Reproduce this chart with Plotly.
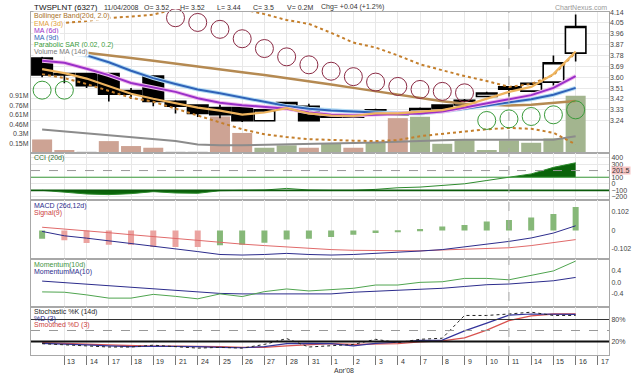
import plotly.graph_objects as go

# ---------------- data ----------------
dates = ["12", "13", "14", "17", "18", "19", "21", "24", "25", "26", "27", "28", "31",
         "1", "2", "3", "4", "7", "8", "9", "10", "11", "14", "15", "16"]
tick_labels = ["13", "14", "17", "18", "19", "21", "24", "25", "26", "27", "28", "31",
               "1<br>Apr'08", "2", "3", "4", "7", "8", "9", "10", "11", "14", "15", "16", "17"]

open_ = [3.76, 3.63, 3.63, 3.63, 3.49, 3.61, 3.40, 3.37, 3.35, 3.35, 3.24, 3.36, 3.36,
         3.28, 3.28, 3.29, 3.31, 3.31, 3.37, 3.37, 3.44, 3.52, 3.485, 3.56, 3.80]
high = [3.77, 3.64, 3.63, 3.63, 3.51, 3.61, 3.41, 3.37, 3.40, 3.35, 3.34, 3.395, 3.38,
        3.28, 3.28, 3.34, 3.31, 3.35, 3.37, 3.42, 3.48, 3.52, 3.55, 3.78, 4.12]
low = [3.60, 3.55, 3.51, 3.40, 3.42, 3.36, 3.30, 3.27, 3.26, 3.23, 3.24, 3.36, 3.24,
       3.27, 3.27, 3.29, 3.29, 3.31, 3.34, 3.37, 3.44, 3.44, 3.48, 3.53, 3.73]
close = [3.62, 3.62, 3.53, 3.46, 3.46, 3.40, 3.36, 3.30, 3.29, 3.24, 3.33, 3.39, 3.24,
         3.27, 3.27, 3.33, 3.29, 3.34, 3.34, 3.41, 3.47, 3.50, 3.55, 3.72, 4.02]

volume_m = [0.215, 0.047, 0.016, 0.189, 0.110, 0.083, 0.016, 0.016, 0.582, 0.319, 0.083, 0.121, 0.083,
            0.157, 0.083, 0.168, 0.555, 0.577, 0.146, 0.215, 0.047, 0.200, 0.162, 0.231, 0.912]
volume_dir = ["d", "d", "n", "d", "d", "d", "n", "n", "d", "d", "u", "u", "d",
              "u", "d", "u", "d", "u", "u", "u", "u", "u", "u", "u", "u"]
volume_ma = [0.373, 0.341, 0.307, 0.283, 0.252, 0.220, 0.189, 0.134, 0.121, 0.121, 0.126, 0.134, 0.142,
             0.149, 0.157, 0.165, 0.181, 0.197, 0.204, 0.212, 0.212, 0.220, 0.212, 0.212, 0.267]

bb_upper = [4.058, 4.050, 4.066, 4.091, 4.103, 4.119, 4.164, 4.189, 4.189, 4.164, 4.123, 4.074, 4.042,
            3.968, 3.887, 3.846, 3.781, 3.707, 3.658, 3.610, 3.569, 3.520, 3.544, 3.618, 3.805]
bb_mid = [3.846, 3.826, 3.805, 3.781, 3.760, 3.736, 3.711, 3.687, 3.667, 3.642, 3.618, 3.593, 3.569,
          3.540, 3.512, 3.483, 3.455, 3.426, 3.401, 3.381, 3.370, 3.365, 3.373, 3.385, 3.403]
bb_lower = [3.626, 3.593, 3.544, 3.487, 3.430, 3.397, 3.340, 3.283, 3.226, 3.169, 3.128, 3.104, 3.087,
            3.079, 3.075, 3.071, 3.079, 3.112, 3.132, 3.153, 3.169, 3.180, 3.173, 3.140, 3.044]
ema3 = [3.667, 3.634, 3.589, 3.528, 3.463, 3.422, 3.385, 3.349, 3.324, 3.291, 3.308, 3.344, 3.300,
        3.283, 3.279, 3.300, 3.300, 3.316, 3.328, 3.365, 3.422, 3.479, 3.520, 3.626, 3.813]
ma_short = [3.736, 3.720, 3.671, 3.618, 3.552, 3.516, 3.479, 3.426, 3.389, 3.369, 3.353, 3.340, 3.308,
            3.289, 3.283, 3.291, 3.295, 3.300, 3.316, 3.349, 3.385, 3.418, 3.452, 3.512, 3.610]
ma_long = [3.838, 3.805, 3.781, 3.724, 3.654, 3.593, 3.544, 3.499, 3.467, 3.430, 3.397, 3.361, 3.340,
           3.324, 3.316, 3.308, 3.300, 3.300, 3.316, 3.340, 3.365, 3.389, 3.418, 3.455, 3.512]
sar_above = [None, None, None, None, None, 4.189, 4.093, 4.054, 3.997, 3.919, 3.838, 3.769, 3.703,
             3.650, 3.605, 3.560, 3.524, 3.499, 3.483, 3.471, None, None, None, None, None]
sar_below = [3.493, 3.493, None, None, None, None, None, None, None, None, None, None, None,
             None, None, None, None, None, None, None, 3.242, 3.255, 3.275, 3.289, 3.330]

cci = [-100, -130, -155, -165, -150, -120, -140, -145, -105, -100, -95, -70, -95,
       -100, -100, -85, -60, -50, -25, 0, 50, 100, 150, 250, 320]

macd_hist = [-0.045, -0.054, -0.069, -0.078, -0.078, -0.091, -0.091, -0.091, -0.081, -0.079, -0.068,
             -0.050, -0.046, -0.036, -0.023, -0.014, -0.007, 0.008, 0.022, 0.031, 0.049, 0.058,
             0.071, 0.091, 0.130]
macd_hist_dir = ["u", "d", "d", "d", "d", "d", "d", "d", "u", "u", "u", "u", "u",
                 "u", "u", "u", "u", "u", "u", "u", "u", "u", "u", "u", "u"]
macd_line = [-0.005, -0.029, -0.042, -0.056, -0.072, -0.086, -0.099, -0.116, -0.132, -0.135, -0.132,
             -0.126, -0.132, -0.135, -0.132, -0.126, -0.123, -0.113, -0.105, -0.091, -0.078, -0.060,
             -0.041, -0.014, 0.026]
signal_line = [0.018, 0.009, -0.002, -0.012, -0.023, -0.034, -0.045, -0.056, -0.064, -0.075, -0.083,
               -0.091, -0.099, -0.105, -0.109, -0.111, -0.114, -0.112, -0.107, -0.104, -0.099, -0.095,
               -0.083, -0.068, -0.050]

momentum = [-0.337, -0.348, -0.442, -0.556, -0.556, -0.424, -0.494, -0.581, -0.407, -0.501, -0.327,
            -0.233, -0.303, -0.250, -0.209, -0.094, -0.094, 0.000, 0.021, 0.139, 0.139, 0.090,
            0.254, 0.403, 0.751]
momentum_ma = [0.045, -0.007, -0.059, -0.129, -0.181, -0.233, -0.285, -0.337, -0.390, -0.407, -0.407,
               -0.407, -0.407, -0.407, -0.348, -0.320, -0.292, -0.250, -0.209, -0.146, -0.083, -0.059,
               0.000, 0.056, 0.174]

stoch_k = [14, 12, 8, 5, 5, 10, 7, 2, 4, 2, 12, 28, 5, 8, 12, 26, 17, 26, 29, 91, 91, 95, 100, 91, 91]
stoch_d = [15, 14, 11, 8, 6, 7, 7, 6, 4, 3, 6, 14, 15, 14, 8, 15, 18, 23, 24, 49, 70, 92, 95, 95, 94]
stoch_sd = [17, 16, 13, 11, 8, 7, 7, 7, 6, 4, 4, 8, 12, 14, 12, 12, 14, 19, 22, 30, 51, 77, 90, 95, 95]

price_ticks = [3.24, 3.33, 3.42, 3.51, 3.60, 3.69, 3.78, 3.87, 3.96, 4.05, 4.14]
vol_ticks = [0.152, 0.304, 0.456, 0.608, 0.760, 0.912]
vol_tick_text = ["0.15M", "0.3M", "0.46M", "0.61M", "0.76M", "0.91M"]
cci_current = 201.5
crosshair_index = 21

# ---------------- geometry helpers ----------------
W, H = 640, 373
L, R, T, B = 23, 23, 9, 16
PW, PH = W - L - R, H - T - B


def px(x):
    return (x - L) / PW


def py(y):
    return (H - B - y) / PH


GRID = "#e8e8e8"
BORDER = "#a8a8a8"
FONT = "Liberation Sans, Arial, sans-serif"

xi = list(range(len(dates)))
fig = go.Figure()

# ---------------- main panel: volume (base axis) ----------------
vcol = {"d": "#cda394", "u": "#a3b58f", "n": "#e9e9e9"}
fig.add_bar(x=xi, y=volume_m, width=0.9, marker=dict(color=[vcol[d] for d in volume_dir], line_width=0),
            xaxis="x", yaxis="y", hoverinfo="skip")
fig.add_scatter(x=xi, y=volume_ma, mode="lines", line=dict(color="#8c8c8c", width=2),
                xaxis="x", yaxis="y", hoverinfo="skip")

# ---------------- main panel: price (overlay axis) ----------------
fig.add_candlestick(x=xi, open=open_, high=high, low=low, close=close, xaxis="x", yaxis="y6",
                    increasing=dict(line=dict(color="black", width=1.6), fillcolor="white"),
                    decreasing=dict(line=dict(color="black", width=1.6), fillcolor="black"),
                    whiskerwidth=0, hoverinfo="skip")
fig.add_scatter(x=xi, y=bb_mid, mode="lines", line=dict(color="#b58a52", width=2.5),
                xaxis="x", yaxis="y6", hoverinfo="skip")
for band in (bb_upper, bb_lower):
    fig.add_scatter(x=xi, y=band, mode="lines", line=dict(color="#c47f2c", width=2, dash="dot"),
                    xaxis="x", yaxis="y6", hoverinfo="skip")
fig.add_scatter(x=xi, y=ma_long, mode="lines", line=dict(color="#b4dbf3", width=4),
                xaxis="x", yaxis="y6", hoverinfo="skip")
fig.add_scatter(x=xi, y=ma_long, mode="lines", line=dict(color="#2f62b8", width=2),
                xaxis="x", yaxis="y6", hoverinfo="skip")
fig.add_scatter(x=xi, y=ma_short, mode="lines", line=dict(color="#f2bdee", width=4),
                xaxis="x", yaxis="y6", hoverinfo="skip")
fig.add_scatter(x=xi, y=ma_short, mode="lines", line=dict(color="#9a2fc8", width=2),
                xaxis="x", yaxis="y6", hoverinfo="skip")
fig.add_scatter(x=xi, y=ema3, mode="lines", line=dict(color="#eeb45e", width=2.2),
                xaxis="x", yaxis="y6", hoverinfo="skip")
fig.add_scatter(x=xi, y=sar_above, mode="markers", cliponaxis=False,
                marker=dict(symbol="circle-open", size=18, color="#8a2a44", line=dict(width=1)),
                xaxis="x", yaxis="y6", hoverinfo="skip")
fig.add_scatter(x=xi, y=sar_below, mode="markers", cliponaxis=False,
                marker=dict(symbol="circle-open", size=18, color="#3a9a3a", line=dict(width=1)),
                xaxis="x", yaxis="y6", hoverinfo="skip")

# ---------------- CCI ----------------
cci_low = [min(v, -100) for v in cci]
cci_high = [max(v, 100) for v in cci]
fig.add_scatter(x=xi, y=[-100] * len(xi), mode="lines", line=dict(width=0), xaxis="x2", yaxis="y2",
                hoverinfo="skip")
fig.add_scatter(x=xi, y=cci_low, mode="lines", line=dict(width=0), fill="tonexty", fillcolor="#0a640a",
                xaxis="x2", yaxis="y2", hoverinfo="skip")
fig.add_scatter(x=xi, y=[100] * len(xi), mode="lines", line=dict(width=0), xaxis="x2", yaxis="y2",
                hoverinfo="skip")
fig.add_scatter(x=xi, y=cci_high, mode="lines", line=dict(width=0), fill="tonexty", fillcolor="#0a640a",
                xaxis="x2", yaxis="y2", hoverinfo="skip")
fig.add_scatter(x=xi, y=cci, mode="lines", line=dict(color="#2e8b2e", width=1), xaxis="x2", yaxis="y2",
                hoverinfo="skip")

# ---------------- MACD ----------------
hcol = {"u": "#86b878", "d": "#eba3a0"}
fig.add_bar(x=xi, y=macd_hist, width=0.27, marker=dict(color=[hcol[d] for d in macd_hist_dir], line_width=0),
            xaxis="x3", yaxis="y3", hoverinfo="skip")
fig.add_scatter(x=xi, y=signal_line, mode="lines", line=dict(color="#e06a6a", width=1),
                xaxis="x3", yaxis="y3", hoverinfo="skip")
fig.add_scatter(x=xi, y=macd_line, mode="lines", line=dict(color="#2c2c8c", width=1),
                xaxis="x3", yaxis="y3", hoverinfo="skip")

# ---------------- Momentum ----------------
fig.add_scatter(x=xi, y=momentum_ma, mode="lines", line=dict(color="#2c2c8c", width=1),
                xaxis="x4", yaxis="y4", hoverinfo="skip")
fig.add_scatter(x=xi, y=momentum, mode="lines", line=dict(color="#4fa44f", width=1),
                xaxis="x4", yaxis="y4", hoverinfo="skip")

# ---------------- Stochastic ----------------
fig.add_scatter(x=xi, y=stoch_sd, mode="lines", line=dict(color="#d9534f", width=1.3),
                xaxis="x5", yaxis="y5", hoverinfo="skip")
fig.add_scatter(x=xi, y=stoch_d, mode="lines", line=dict(color="#33339a", width=1.2),
                xaxis="x5", yaxis="y5", hoverinfo="skip")
fig.add_scatter(x=xi, y=stoch_k, mode="lines", line=dict(color="#222222", width=1, dash="dot"),
                xaxis="x5", yaxis="y5", hoverinfo="skip")

# ---------------- axes ----------------
dom_main = [py(152), 1]
dom_cci = [py(200), py(152)]
dom_macd = [py(260), py(200)]
dom_mom = [py(308), py(260)]
dom_sto = [0, py(308)]

xbase = dict(range=[-0.5, 25.5], tickvals=list(range(1, 26)), showgrid=True, gridcolor=GRID,
             zeroline=False, showline=True, mirror=True, linecolor=BORDER, linewidth=1,
             showticklabels=False, ticks="", fixedrange=True)
ybase = dict(side="right", showline=True, mirror=True, linecolor=BORDER, linewidth=1, zeroline=False,
             ticks="", tickfont=dict(size=7, color="#444"), fixedrange=True)

layout = dict(
    width=W, height=H, margin=dict(l=L, r=R, t=T, b=B, pad=0),
    paper_bgcolor="white", plot_bgcolor="white", showlegend=False,
    font=dict(family=FONT, size=7, color="#333"),
    boxgap=0.04, boxgroupgap=0.04, bargap=0.1,
    xaxis=dict(xbase, anchor="y", rangeslider=dict(visible=False)),
    xaxis2=dict(xbase, anchor="y2"),
    xaxis3=dict(xbase, anchor="y3"),
    xaxis4=dict(xbase, anchor="y4"),
    xaxis5=dict(xbase, anchor="y5", ticks="outside", ticklen=9, tickcolor="#777", tickwidth=1),
    yaxis=dict(ybase, domain=dom_main, anchor="x", side="left", range=[0, 2.248],
               tickvals=vol_ticks, ticktext=vol_tick_text, showgrid=False),
    yaxis6=dict(ybase, overlaying="y", anchor="x", side="right", range=[2.973, 4.1405],
                tickvals=price_ticks, ticktext=["%.2f" % v for v in price_ticks],
                showgrid=True, gridcolor=GRID, showline=False),
    yaxis2=dict(ybase, domain=dom_cci, anchor="x2", range=[-250.5, 469.5],
                tickvals=[400, 300, 100, 0, -100, -200], showgrid=True, gridcolor=GRID),
    yaxis3=dict(ybase, domain=dom_macd, anchor="x3", range=[-0.159, 0.1666],
                tickvals=[0.102, 0, -0.102], ticktext=["0.102", "0", "-0.102"], showgrid=False),
    yaxis4=dict(ybase, domain=dom_mom, anchor="x4", range=[-0.859, 0.810],
                tickvals=[0.4, 0, -0.4], ticktext=["0.4", "0.0", "-0.4"], showgrid=False),
    yaxis5=dict(ybase, domain=dom_sto, anchor="x5", range=[-16.8, 114.9],
                tickvals=[80, 20], ticktext=["80%", "20%"], showgrid=False),
)
fig.update_layout(**layout)

# ---------------- reference lines ----------------
shapes = [
    dict(type="line", xref="x2 domain", x0=0, x1=1, yref="y2", y0=cci_current, y1=cci_current,
         line=dict(color="#999", width=1, dash="dash")),
    dict(type="line", xref="x2 domain", x0=0, x1=1, yref="y2", y0=100, y1=100,
         line=dict(color="#3a9a3a", width=1)),
    dict(type="line", xref="x2 domain", x0=0, x1=1, yref="y2", y0=-100, y1=-100,
         line=dict(color="#0a5a0a", width=1.6)),
    dict(type="line", xref="x5 domain", x0=0, x1=1, yref="y5", y0=80, y1=80,
         line=dict(color="#333", width=1.2)),
    dict(type="line", xref="x5 domain", x0=0, x1=1, yref="y5", y0=20, y1=20,
         line=dict(color="#111", width=2)),
    dict(type="line", xref="x5 domain", x0=0, x1=1, yref="y5", y0=50, y1=50,
         line=dict(color="#999", width=1, dash="dash")),
    dict(type="line", xref="x", x0=crosshair_index, x1=crosshair_index, yref="paper", y0=0, y1=1,
         line=dict(color="#aaa", width=1, dash="dash"), layer="above"),
    dict(type="rect", xref="paper", x0=-0.05, x1=1.05, yref="paper", y0=py(6), y1=py(-2),
         fillcolor="white", line=dict(width=0), layer="above"),
]
fig.update_layout(shapes=shapes)

# ---------------- texts ----------------
ann = []


def text(t, x, y, color="#222", size=7, xanchor="left", bg=None, xref="paper", yref="paper"):
    d = dict(text=t, x=x, y=y, xref=xref, yref=yref, xanchor=xanchor, yanchor="middle",
             showarrow=False, font=dict(family=FONT, size=size, color=color), borderpad=0)
    if bg:
        d["bgcolor"] = bg
    ann.append(d)


# header
text("TWSPLNT (6327)", px(25), py(4), "#111", 8)
for t, xx in [("11/04/2008", 97), ("O= 3.52", 138), ("H= 3.52", 175), ("L= 3.44", 213),
              ("C= 3.5", 250), ("V= 0.2M", 285), ("Chg= +0.04 (+1.2%)", 320)]:
    text(t, px(xx), py(4), "#333", 7)
text("ChartNexus.com", px(616), py(4), "#9a9a9a", 7, xanchor="right")

# main panel legend
for t, yy, c in [("Bollinger Band(20d, 2.0)", 13.3, "#a86f28"), ("EMA (3d)", 20.7, "#e0a040"),
                 ("MA (6d)", 28.0, "#9a2fc8"), ("MA (9d)", 35.3, "#2f62b8"),
                 ("Parabolic SAR (0.02, 0.2)", 42.7, "#3a9a3a"), ("Volume MA (14d)", 50.0, "#7a7a7a")]:
    text(t, px(25), py(yy), c, 7, bg="white")

# sub panel legends
text("CCI (20d)", px(25), py(157), "#2e6b2e", 7)
text("MACD (26d,12d)", px(25), py(206), "#2c2c8c", 7)
text("Signal(9)", px(25), py(213), "#cc4040", 7)
text("Momentum(10d)", px(25), py(266), "#3f943f", 7)
text("MomentumMA(10)", px(25), py(273), "#2c2c8c", 7)
text("Stochastic %K (14d)", px(25), py(313), "#222", 7)
text("%D (3)", px(25), py(320), "#2c2c8c", 7)
text("Smoothed %D (3)", px(25), py(327), "#cc4040", 7)

# current CCI value tag
text("201.5", px(619), cci_current, "#333", 7, bg="#f6c4c4", yref="y2")

# x tick labels
for i, t in enumerate(tick_labels):
    ann.append(dict(text=t, x=i + 1, xref="x5", y=0, yref="paper", xanchor="left", yanchor="top",
                    xshift=1, yshift=-1, showarrow=False, align="left",
                    font=dict(family=FONT, size=7, color="#333")))

fig.update_layout(annotations=ann)

fig.write_html("out.html")
